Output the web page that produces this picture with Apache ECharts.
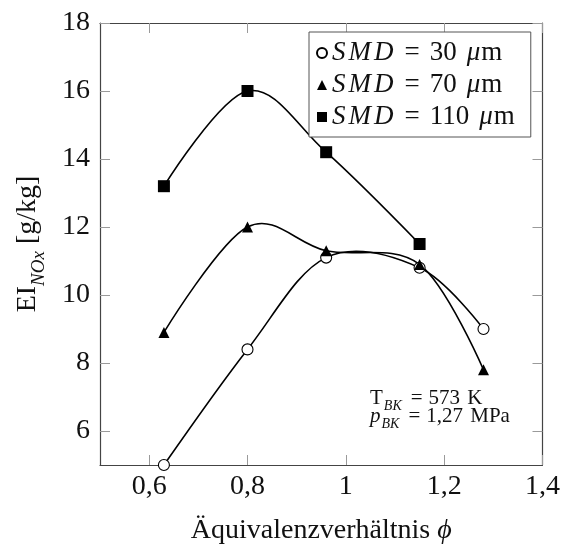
<!DOCTYPE html>
<html>
<head>
<meta charset="utf-8">
<script src="https://cdn.jsdelivr.net/npm/echarts@6/dist/echarts.min.js"></script>
<style>
  html, body { margin: 0; padding: 0; background: #fff; }
  #chart { width: 563px; height: 550px; }
</style>
</head>
<body>
<div id="chart"></div>
<script>
// Equivalence ratio values and NOx emission index for three droplet sizes
const phi30 = [0.63, 0.80, 0.96, 1.15, 1.28];
const ei30 = [5.0, 8.4, 11.1, 10.8, 9.0];
const phi70 = [0.63, 0.80, 0.96, 1.15, 1.28];
const ei70 = [8.9, 12.0, 11.3, 10.9, 7.8];
const phi110 = [0.63, 0.80, 0.96, 1.15];
const ei110 = [13.2, 16.0, 14.2, 11.5];

const seriesNames = ['SMD30', 'SMD70', 'SMD110'];
const legendLabels = ['30', '70', '110'];

const xTicks = [0.6, 0.8, 1.0, 1.2, 1.4];
const yTicks = [6, 8, 10, 12, 14, 16, 18];

const FONT = '"Liberation Serif", "DejaVu Serif", serif';
const INK = '#111';
const AXIS_COLOR = '#444';
const TICK_COLOR = '#9a9a9a';
const TENSION = 0.17; // cardinal-spline looseness of the curves

function pairs(xs, ys) { return xs.map((x, i) => [x, ys[i]]); }
function fmtComma(v) { return String(+v.toFixed(2)).replace('.', ','); }

// Smooth curve through the data points, drawn in pixel space after the axes map them
function curveSeries(xs, ys) {
  return {
    type: 'custom',
    xAxisIndex: 0, yAxisIndex: 0,
    silent: true, z: 2,
    data: pairs(xs, ys),
    renderItem: function (params, api) {
      if (params.dataIndex !== 0) return null;
      const p = xs.map((x, i) => api.coord([x, ys[i]]));
      const n = p.length;
      const d = p.map((pt, i) => {
        if (i === 0 || i === n - 1) return [0, 0];
        return [TENSION * (p[i + 1][0] - p[i - 1][0]), TENSION * (p[i + 1][1] - p[i - 1][1])];
      });
      const children = [];
      for (let i = 0; i < n - 1; i++) {
        children.push({
          type: 'bezierCurve',
          shape: {
            x1: p[i][0], y1: p[i][1],
            cpx1: p[i][0] + d[i][0], cpy1: p[i][1] + d[i][1],
            cpx2: p[i + 1][0] - d[i + 1][0], cpy2: p[i + 1][1] - d[i + 1][1],
            x2: p[i + 1][0], y2: p[i + 1][1]
          },
          style: { stroke: '#000', fill: null, lineWidth: 1.6 }
        });
      }
      return { type: 'group', children: children };
    }
  };
}

const chart = echarts.init(document.getElementById('chart'), null, { renderer: 'canvas' });

const baseX = {
  type: 'value', min: 0.5, max: 1.4,
  splitLine: { show: false },
  axisLine: { show: true, onZero: false, lineStyle: { color: AXIS_COLOR, width: 1.2 } },
  axisTick: { show: true, inside: true, length: 10, customValues: xTicks, lineStyle: { color: TICK_COLOR, width: 1 } }
};
const baseY = {
  type: 'value', min: 5, max: 18,
  splitLine: { show: false },
  axisLine: { show: true, onZero: false, lineStyle: { color: AXIS_COLOR, width: 1.2 } },
  axisTick: { show: true, inside: true, length: 10, customValues: yTicks, lineStyle: { color: TICK_COLOR, width: 1 } }
};

const legendRich = {
  i: { fontFamily: FONT, fontSize: 27, fontStyle: 'italic', color: INK, lineHeight: 28, padding: [0, 3, 0, 0] },
  e: { fontFamily: FONT, fontSize: 27, color: INK, lineHeight: 28, padding: [0, 10, 0, 8] },
  r: { fontFamily: FONT, fontSize: 27, color: INK, lineHeight: 28 },
  u: { fontFamily: FONT, fontSize: 27, fontStyle: 'italic', color: INK, lineHeight: 28, padding: [0, 1, 0, 10] }
};

// Operating-condition note (combustor temperature and pressure)
const noteRich = {
  r: { fontFamily: FONT, fontSize: 21, color: INK, verticalAlign: 'bottom', lineHeight: 22 },
  i: { fontFamily: FONT, fontSize: 21, fontStyle: 'italic', color: INK, verticalAlign: 'bottom', lineHeight: 22 },
  s: { fontFamily: FONT, fontSize: 14, fontStyle: 'italic', color: INK, verticalAlign: 'bottom', lineHeight: 22, padding: [0, 4, -4, 1] },
  e: { fontFamily: FONT, fontSize: 21, color: INK, verticalAlign: 'bottom', lineHeight: 22, padding: [0, 6, 0, 5] },
  t: { fontFamily: FONT, fontSize: 21, color: INK, verticalAlign: 'bottom', lineHeight: 22, padding: [0, 0, 0, 2] }
};

chart.setOption({
  animation: false,
  backgroundColor: '#fff',
  title: [
    {
      left: 370, top: 387, padding: 0, z: 10,
      text: '{r|T}{s|BK}{e|=}{r|573}{t| K}',
      textStyle: { fontFamily: FONT, fontSize: 21, fontWeight: 'normal', color: INK, rich: noteRich }
    },
    {
      left: 370, top: 405, padding: 0, z: 10,
      text: '{i|p}{s|BK}{e|=}{r|1,27}{t| MPa}',
      textStyle: { fontFamily: FONT, fontSize: 21, fontWeight: 'normal', color: INK, rich: noteRich }
    }
  ],
  grid: { left: 100, top: 23, right: 19, bottom: 85, containLabel: false },
  xAxis: [
    Object.assign({}, baseX, {
      position: 'bottom',
      name: 'Äquivalenzverhältnis {i|ϕ}',
      nameLocation: 'middle',
      nameGap: 52,
      nameTextStyle: {
        fontFamily: FONT, fontSize: 28, color: INK,
        rich: { i: { fontFamily: FONT, fontSize: 28, fontStyle: 'italic', color: INK } }
      },
      axisLabel: {
        show: true, customValues: xTicks, margin: 8,
        fontFamily: FONT, fontSize: 28, color: INK,
        formatter: fmtComma
      }
    }),
    Object.assign({}, baseX, { position: 'top', axisLabel: { show: false } })
  ],
  yAxis: [
    Object.assign({}, baseY, {
      position: 'left',
      name: '{r|EI}{s|NOx}{r| [g/kg]}',
      nameLocation: 'middle',
      nameRotate: 90,
      nameGap: 58,
      nameTextStyle: {
        fontFamily: FONT, color: INK,
        rich: {
          r: { fontFamily: FONT, fontSize: 28, color: INK, verticalAlign: 'bottom', lineHeight: 32 },
          s: { fontFamily: FONT, fontSize: 19, fontStyle: 'italic', color: INK, verticalAlign: 'bottom', lineHeight: 32, padding: [0, 0, -6, 0] }
        }
      },
      axisLabel: {
        show: true, customValues: yTicks, margin: 10,
        fontFamily: FONT, fontSize: 28, color: INK
      }
    }),
    Object.assign({}, baseY, { position: 'right', axisLabel: { show: false } })
  ],
  legend: {
    show: true,
    orient: 'vertical',
    left: 309, top: 32,
    padding: [7, 16, 6, 7],
    itemGap: 4,
    itemWidth: 10, itemHeight: 10,
    backgroundColor: '#fff',
    borderColor: '#555', borderWidth: 1,
    data: [
      { name: seriesNames[0], icon: 'emptyCircle', itemStyle: { color: '#000', borderColor: '#000', borderWidth: 1 } },
      { name: seriesNames[1], icon: 'triangle', itemStyle: { color: '#000' } },
      { name: seriesNames[2], icon: 'rect', itemStyle: { color: '#000' } }
    ],
    formatter: function (name) {
      const v = legendLabels[seriesNames.indexOf(name)];
      return '{i|S}{i|M}{i|D}{e|=}{r|' + v + '}{u|μ}{r|m}';
    },
    textStyle: {
      fontFamily: FONT, fontSize: 27, color: INK, lineHeight: 28,
      rich: legendRich
    }
  },
  series: [
    curveSeries(phi30, ei30),
    curveSeries(phi70, ei70),
    curveSeries(phi110, ei110),
    {
      name: seriesNames[0], type: 'scatter', z: 3,
      data: pairs(phi30, ei30),
      symbol: 'circle', symbolSize: 11,
      itemStyle: { color: '#fff', borderColor: '#000', borderWidth: 1.1, opacity: 1 }
    },
    {
      name: seriesNames[1], type: 'scatter', z: 3,
      data: pairs(phi70, ei70),
      symbol: 'triangle', symbolSize: 11,
      itemStyle: { color: '#000', opacity: 1 }
    },
    {
      name: seriesNames[2], type: 'scatter', z: 3,
      data: pairs(phi110, ei110),
      symbol: 'rect', symbolSize: 12,
      itemStyle: { color: '#000', opacity: 1 }
    }
  ]
});
</script>
</body>
</html>
